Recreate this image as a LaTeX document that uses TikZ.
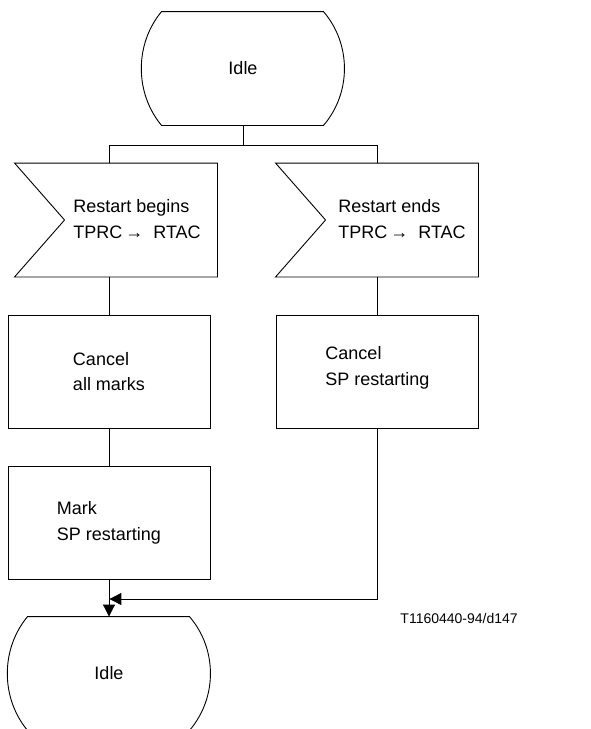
\documentclass[tikz,border=0pt]{standalone}
\usepackage{fontspec}
\setmainfont{Liberation Sans}
\usetikzlibrary{arrows.meta,calc}
\begin{document}
\begin{tikzpicture}[x=1pt,y=-1pt,
  line width=0.9pt,
  every node/.style={font=\fontsize{18}{25.5}\selectfont},
  frame/.style={draw=none,minimum width=202pt,minimum height=113pt,inner sep=0pt},
  procbox/.style={draw,minimum width=202pt,minimum height=113pt,inner sep=0pt,align=left},
  txt/.style={align=left,inner sep=0pt},
  lbl/.style={font=\fontsize{14}{16}\selectfont,inner sep=0pt},
  arr/.style={-{Triangle[length=12pt,width=12pt]}}
]
\useasboundingbox (0,0) rectangle (590,729);
\begin{scope}
\clip (0,0) rectangle (590,729);
% top idle state
\node[frame] (idle1) at (243,68.5) {Idle};
\draw ($(idle1.north west)+(20,0)$) -- ($(idle1.north east)+(-21,0)$)
  .. controls ($(idle1.north east)+(7,32.5)$) and ($(idle1.south east)+(7,-32.5)$) .. ($(idle1.south east)+(-21,0)$)
  -- ($(idle1.south west)+(20,0)$)
  .. controls ($(idle1.south west)+(-7,-32.5)$) and ($(idle1.north west)+(-7,32.5)$) .. cycle;
% input signals
\node[frame] (s1) at (116,220) {};
\draw (s1.north west) -- (s1.north east) -- (s1.south east) -- (s1.south west) -- ($(s1.west)+(50,0)$) -- cycle;
\node[txt] (t1) at (137,219) {Restart begins\\TPRC\,→\ \ RTAC};
\node[frame] (s2) at (377,220) {};
\draw (s2.north west) -- (s2.north east) -- (s2.south east) -- (s2.south west) -- ($(s2.west)+(50,0)$) -- cycle;
\node[txt] (t2) at (402,219) {Restart ends\\TPRC\,→\ \ RTAC};
% tasks
\node[procbox] (c1) at (109,371.5) {Cancel\\all marks};
\node[procbox] (m1) at (109,523) {Mark\\SP restarting};
\node[frame,draw] (c2) at (377,371.5) {};
\node[txt] (t3) at (377.5,368) {Cancel\\SP restarting};
% bottom idle state
\node[frame] (idle2) at (109,673.5) {Idle};
\draw ($(idle2.north west)+(20,0)$) -- ($(idle2.north east)+(-21,0)$)
  .. controls ($(idle2.north east)+(7,32.5)$) and ($(idle2.south east)+(7,-32.5)$) .. ($(idle2.south east)+(-21,0)$)
  -- ($(idle2.south west)+(20,0)$)
  .. controls ($(idle2.south west)+(-7,-32.5)$) and ($(idle2.north west)+(-7,32.5)$) .. cycle;
\end{scope}
% connectors
\coordinate (split) at (243,145);
\coordinate (L) at (109,145);
\coordinate (R) at (377,145);
\coordinate (join) at (109,599);
\draw (idle1.south) -- (split);
\draw (L) -- (R);
\draw (L) -- (L |- s1.north);
\draw (R) -- (s2.north);
\draw (L |- s1.south) -- (c1.north);
\draw (c1.south) -- (m1.north);
\draw[arr] (m1.south) -- (idle2.north);
\draw (s2.south) -- (c2.north);
\draw[arr,shorten >=0.4pt] (c2.south) |- (join);
\node[lbl,anchor=base west] (ref) at (400,623) {T1160440-94/d147};
\end{tikzpicture}
\end{document}
